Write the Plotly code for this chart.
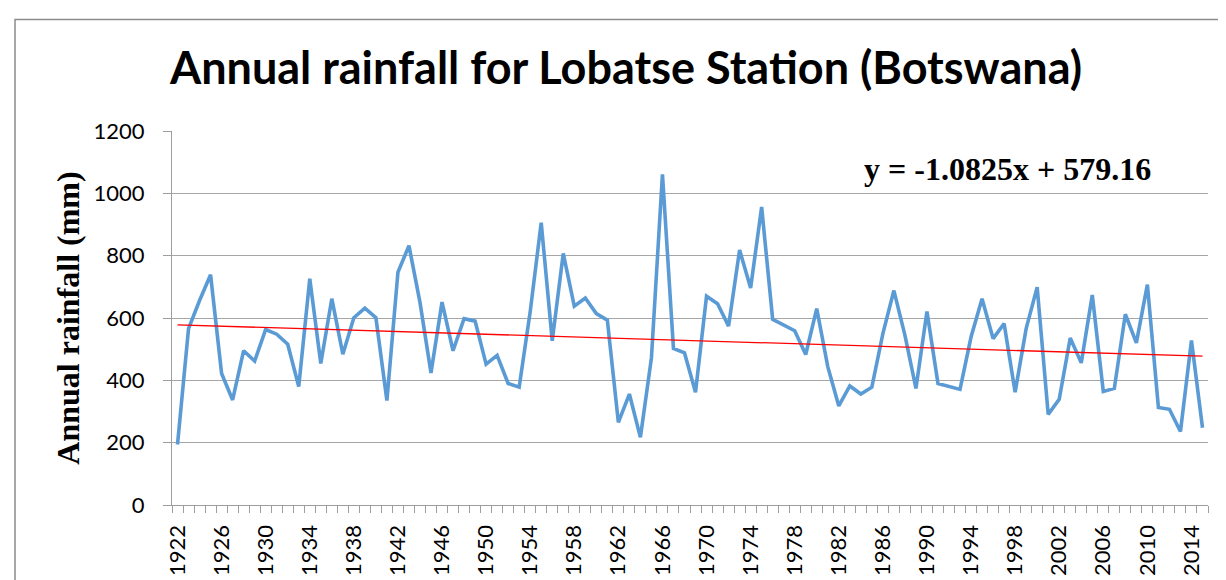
import plotly.graph_objects as go

years = list(range(1922, 2016))
rainfall = [
    194, 566, 656, 739, 422, 337, 495, 462, 563, 548,   # 1922-1931
    516, 380, 726, 454, 662, 484, 601, 632, 601, 335,   # 1932-1941
    747, 832, 650, 424, 651, 495, 598, 590, 452, 480,   # 1942-1951
    390, 378, 620, 906, 527, 807, 638, 664, 614, 593,   # 1952-1961
    265, 356, 217, 472, 1061, 502, 488, 362, 670, 646,  # 1962-1971
    574, 818, 696, 956, 596, 577, 559, 483, 630, 444,   # 1972-1981
    318, 382, 356, 378, 550, 688, 545, 374, 621, 390,   # 1982-1991
    380, 371, 539, 662, 534, 582, 362, 566, 699, 291,   # 1992-2001
    339, 536, 456, 674, 364, 374, 612, 520, 707, 313,   # 2002-2011
    307, 236, 528, 248                                  # 2012-2015
]
tick_years = list(range(1922, 2015, 4))
tick_labels = [str(y) for y in tick_years]
trend_slope = -1.0825
trend_intercept = 579.16
trend_y = [trend_slope * (i + 1) + trend_intercept for i in range(len(years))]

fig = go.Figure()
fig.add_trace(go.Scatter(x=years, y=rainfall, mode="lines",
                         line=dict(color="#5B9BD5", width=3.6), showlegend=False))
fig.add_trace(go.Scatter(x=years, y=trend_y, mode="lines",
                         line=dict(color="#FF0000", width=1.3), showlegend=False))

# plot area geometry (px)
L, R, T, B = 164, 1200, 123, 499
W, H = R - L, B - T
def px_x(x): return (x - L) / W
def px_y(y): return (B - y) / H

fig.update_layout(
    width=1226, height=580,
    margin=dict(l=L, r=1226 - R, t=T, b=580 - B),
    paper_bgcolor="white", plot_bgcolor="white",
    title=dict(text="<b>Annual rainfall for Lobatse Station (Botswana)</b>",
               font=dict(family="Lato", size=45, color="black"),
               x=618 / 1226, xanchor="center", y=1 - 60 / 580, yanchor="middle"),
    xaxis=dict(range=[1921.5, 2015.5], tickmode="array", tickvals=tick_years,
               ticktext=tick_labels, tickangle=-90, ticks="", showgrid=False,
               showline=True, linecolor="#9e9e9e", linewidth=1.3,
               ticklabelstandoff=10,
               tickfont=dict(family="Lato", size=22, color="black"),
               minor=dict(tick0=1921.5, dtick=1, ticks="outside", ticklen=7,
                          tickcolor="#9e9e9e", tickwidth=1, showgrid=False),
               zeroline=False),
    yaxis=dict(range=[0, 1200], dtick=200, showgrid=True, gridcolor="#a6a6a6",
               gridwidth=1.2, showline=True, linecolor="#9e9e9e", linewidth=1.3,
               ticks="outside", ticklen=8, tickcolor="#9e9e9e",
               ticklabelstandoff=14,
               tickfont=dict(family="Lato", size=22, color="black"),
               zeroline=False,
               title=dict(text="<b>Annual rainfall (mm)</b>",
                          font=dict(family="Liberation Serif", size=32, color="black"),
                          standoff=4)),
)

fig.add_annotation(text="<b>y = -1.0825x + 579.16</b>", xref="paper", yref="paper",
                   x=px_x(999), y=px_y(161), xanchor="center", yanchor="middle",
                   showarrow=False,
                   font=dict(family="Liberation Serif", size=32, color="black"))

fig.add_shape(type="rect", xref="paper", yref="paper",
              x0=px_x(7), x1=px_x(1250), y0=px_y(600), y1=px_y(11),
              line=dict(color="#8c8c8c", width=1.5), fillcolor="rgba(0,0,0,0)",
              layer="below")

fig.write_html("out.html")
